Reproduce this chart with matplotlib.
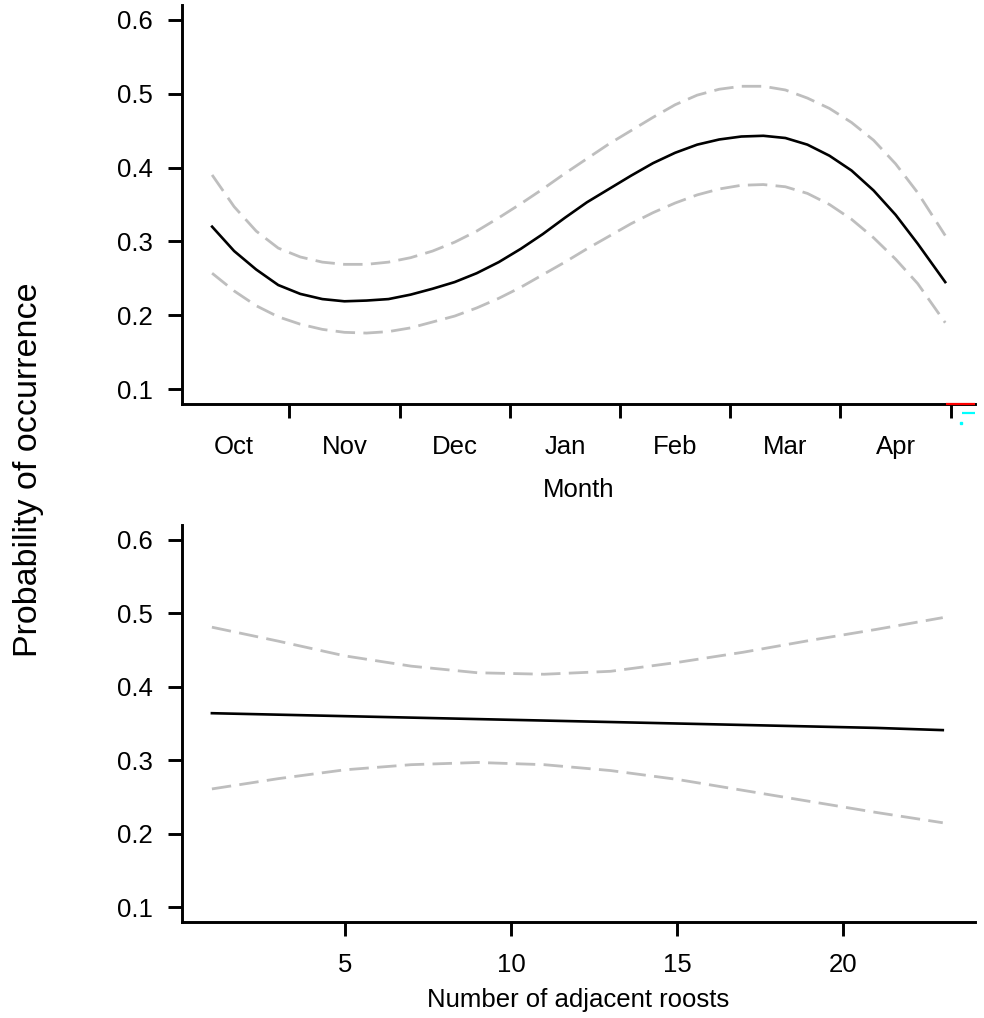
import matplotlib.pyplot as plt
from matplotlib.ticker import FixedLocator, FixedFormatter
import numpy as np

plt.rcParams['font.family'] = ['Liberation Sans', 'DejaVu Sans']

# Month effect (x in months since 1 Oct)
mes = [0.3, 0.5, 0.7, 0.9, 1.1, 1.3, 1.5, 1.7, 1.9, 2.1, 2.3, 2.5, 2.7, 2.9, 3.1, 3.3, 3.5,
       3.7, 3.9, 4.1, 4.3, 4.5, 4.7, 4.9, 5.1, 5.3, 5.5, 5.7, 5.9, 6.1, 6.3, 6.5, 6.7, 6.95]
prob_mes = [0.320, 0.287, 0.262, 0.241, 0.229, 0.222, 0.219, 0.220, 0.222, 0.228, 0.236, 0.245,
            0.257, 0.272, 0.290, 0.310, 0.332, 0.353, 0.371, 0.389, 0.406, 0.420, 0.431, 0.438,
            0.442, 0.443, 0.440, 0.431, 0.416, 0.396, 0.369, 0.336, 0.297, 0.245]
sup_mes = [0.390, 0.347, 0.314, 0.291, 0.279, 0.272, 0.269, 0.269, 0.272, 0.278, 0.287, 0.299,
           0.314, 0.332, 0.351, 0.371, 0.392, 0.412, 0.432, 0.450, 0.468, 0.485, 0.498, 0.506,
           0.510, 0.510, 0.505, 0.494, 0.480, 0.461, 0.437, 0.405, 0.366, 0.308]
inf_mes = [0.257, 0.233, 0.213, 0.198, 0.188, 0.181, 0.177, 0.176, 0.178, 0.183, 0.191, 0.199,
           0.210, 0.223, 0.238, 0.255, 0.272, 0.290, 0.307, 0.324, 0.339, 0.352, 0.363, 0.371,
           0.376, 0.377, 0.374, 0.365, 0.350, 0.330, 0.305, 0.276, 0.243, 0.190]
meses = ['Oct', 'Nov', 'Dec', 'Jan', 'Feb', 'Mar', 'Apr']

# Number of adjacent roosts effect
ninhos = [1, 3, 5, 7, 9, 11, 13, 15, 17, 19, 21, 23]
prob_ninhos = [0.364, 0.362, 0.360, 0.358, 0.356, 0.354, 0.352, 0.350, 0.348, 0.346, 0.344, 0.341]
sup_ninhos = [0.481, 0.462, 0.442, 0.428, 0.419, 0.417, 0.421, 0.433, 0.447, 0.463, 0.478, 0.494]
inf_ninhos = [0.261, 0.275, 0.287, 0.294, 0.297, 0.294, 0.286, 0.274, 0.259, 0.244, 0.229, 0.215]

y_ticks = [0.1, 0.2, 0.3, 0.4, 0.5, 0.6]

fs = 18.5
lw_eixo = 2.1
cinza = '#BEBEBE'
tracejado = (0, (7, 3))

fig = plt.figure(figsize=(9.84, 10.18), dpi=100)
ax1 = fig.add_axes([182/984, 1 - 404/1018, (975 - 182)/984, (404 - 5)/1018])
ax2 = fig.add_axes([182/984, 1 - 922/1018, (975 - 182)/984, (922 - 525)/1018])

for ax in (ax1, ax2):
    for lado in ('top', 'right'):
        ax.spines[lado].set_visible(False)
    for lado in ('left', 'bottom'):
        ax.spines[lado].set_linewidth(lw_eixo)
        ax.spines[lado].set_capstyle('projecting')
    ax.set_ylim(0.08, 0.62)
    ax.set_yticks(y_ticks)
    ax.set_yticklabels([f'{v:.1f}' for v in y_ticks])
    ax.tick_params(axis='both', which='major', direction='out', length=10,
                   width=lw_eixo, labelsize=fs, pad=11, colors='black')

# painel do mes
ax1.plot(mes, sup_mes, color=cinza, lw=2.0, linestyle=tracejado)
ax1.plot(mes, inf_mes, color=cinza, lw=2.0, linestyle=tracejado)
ax1.plot(mes, prob_mes, color='black', lw=1.9)
ax1.set_xlim(0.027, 7.22)
ax1.xaxis.set_major_locator(FixedLocator(np.arange(1, 8)))
ax1.xaxis.set_major_formatter(FixedFormatter([''] * 7))
ax1.xaxis.set_minor_locator(FixedLocator(np.arange(len(meses)) + 0.5))
ax1.xaxis.set_minor_formatter(FixedFormatter(meses))
ax1.tick_params(axis='x', which='minor', length=0, labelsize=fs, pad=22)
ax1.set_xlabel('Month', fontsize=fs, labelpad=14)

# marcas no canto do eixo
ax1.plot([0.963, 1.0], [0, 0], transform=ax1.transAxes, color='red', lw=1.6,
         clip_on=False, solid_capstyle='butt', zorder=5)
ax1.plot([0.984, 1.0], [-0.023, -0.023], transform=ax1.transAxes, color='cyan',
         lw=1.6, clip_on=False, solid_capstyle='butt', zorder=5)
ax1.plot([0.982], [-0.048], transform=ax1.transAxes, color='cyan', marker='s',
         markersize=2, clip_on=False, zorder=5)

# painel de ninhos adjacentes
ax2.plot(ninhos, sup_ninhos, color=cinza, lw=2.0, linestyle=tracejado)
ax2.plot(ninhos, inf_ninhos, color=cinza, lw=2.0, linestyle=tracejado)
ax2.plot(ninhos, prob_ninhos, color='black', lw=1.9)
ax2.set_xlim(0.1, 23.97)
ax2.set_xticks([5, 10, 15, 20])
ax2.tick_params(axis='x', pad=12)
ax2.set_xlabel('Number of adjacent roosts', fontsize=fs, labelpad=8)

fig.text(0.029, 1 - 470/1018, 'Probability of occurrence', rotation=90,
         ha='center', va='center', fontsize=24.5)

plt.savefig('out.png', dpi=100)
